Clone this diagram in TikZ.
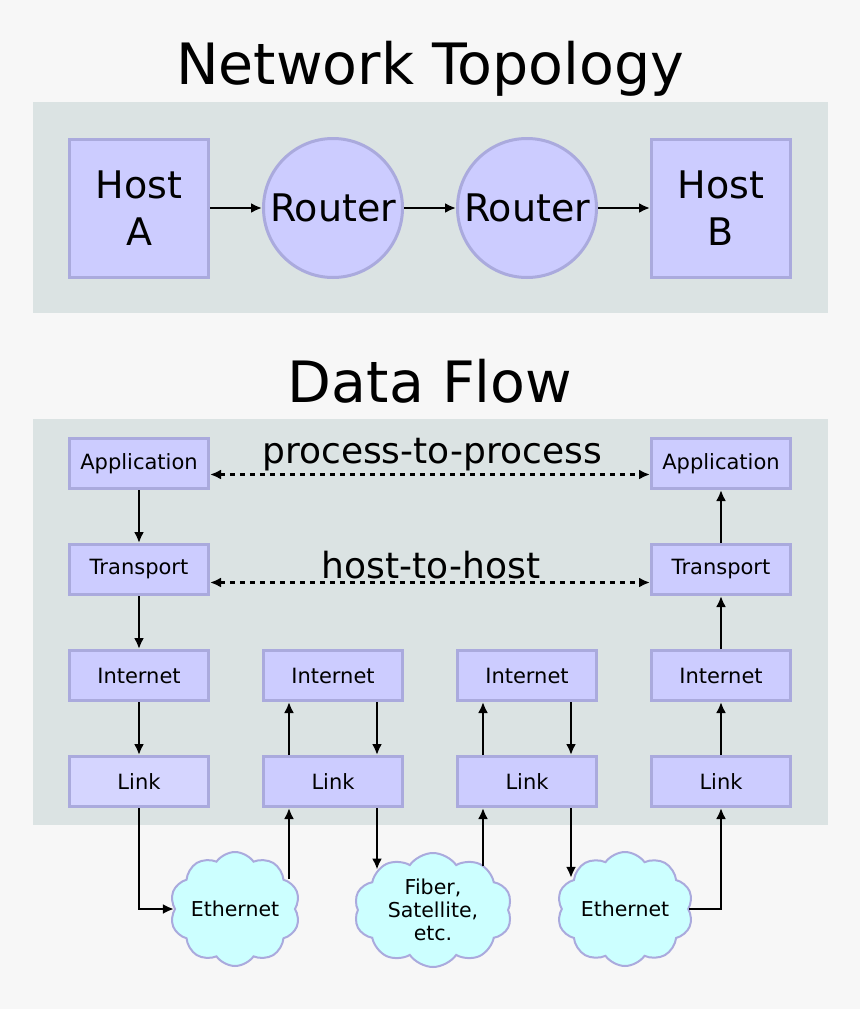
\documentclass[tikz,border=0pt]{standalone}
\usepackage{fontspec}
\setmainfont{DejaVu Sans}
\usetikzlibrary{arrows.meta,positioning,shapes.symbols}
\definecolor{pagebg}{HTML}{F7F7F7}
\definecolor{panelbg}{HTML}{DBE3E3}
\definecolor{boxfill}{HTML}{CCCCFF}
\definecolor{linkfill}{HTML}{D5D5FF}
\definecolor{boxline}{HTML}{AAAADD}
\definecolor{cloudfill}{HTML}{CCFFFF}

\tikzset{
  host/.style={draw=boxline,fill=boxfill,line width=3pt,minimum width=139pt,minimum height=138pt,inner sep=0pt,align=center,font=\fontsize{38}{47}\selectfont},
  router/.style={draw=boxline,fill=boxfill,circle,line width=3pt,minimum size=139pt,inner sep=0pt,font=\fontsize{38}{47}\selectfont},
  layer/.style={draw=boxline,fill=boxfill,line width=3pt,minimum width=139pt,minimum height=50pt,inner sep=0pt,font=\fontsize{21}{25}\selectfont},
  net/.style={cloud,cloud puffs=10,cloud puff arc=110,cloud ignores aspect,draw=boxline,fill=cloudfill,line width=2pt,minimum width=130pt,minimum height=114pt,inner sep=0pt,align=center,font=\fontsize{20.5}{23}\selectfont},
  heading/.style={anchor=base,font=\fontsize{57}{64}\selectfont},
  flowtext/.style={anchor=base,font=\fontsize{36}{40}\selectfont},
  peer/.style={<->,dash pattern=on 5pt off 5pt}
}

\begin{document}
\begin{tikzpicture}[x=1pt,y=-1pt,>={Latex[length=11pt,width=10pt]},line width=2.8pt,node distance=106pt and 194pt,on grid]
  \fill[pagebg] (0,0) rectangle (860,1009);
  \fill[panelbg] (33,102) rectangle (828,313);
  \fill[panelbg] (33,419) rectangle (828,825);

  \node[heading] (topo) at (430,84) {Network Topology};
  \node[heading] (flow) at (430,402) {Data Flow};

  % topology
  \node[host] (hA) at (139,208) {Host\\A};
  \node[router] (r1) [right=of hA] {Router};
  \node[router] (r2) [right=of r1] {Router};
  \node[host] (hB) [right=of r2] {Host\\B};

  \draw[->] (hA) -- (r1);
  \draw[->] (r1) -- (r2);
  \draw[->] (r2) -- (hB);

  % layers
  \node[layer] (app1) at (139,463.5) {Application};
  \node[layer] (tr1) [below=of app1] {Transport};
  \node[layer] (in1) [below=of tr1] {Internet};
  \node[layer,fill=linkfill] (ln1) [below=of in1] {Link};
  \node[layer] (in2) [right=of in1] {Internet};
  \node[layer] (ln2) [right=of ln1] {Link};
  \node[layer] (in3) [right=of in2] {Internet};
  \node[layer] (ln3) [right=of ln2] {Link};
  \node[layer] (in4) [right=of in3] {Internet};
  \node[layer] (ln4) [right=of ln3] {Link};
  \node[layer] (tr4) [above=of in4] {Transport};
  \node[layer] (app4) [above=of tr4] {Application};

  \node[flowtext] (p2p) at (432,463) {process-to-process};
  \node[flowtext] (h2h) at (431,578) {host-to-host};

  \node[net] (eth1) at (235,909) {Ethernet};
  \node[net,minimum width=158pt] (fib) at (433,910) {Fiber,\\Satellite,\\etc.};
  \node[net,minimum width=136pt] (eth2) at (625,909) {Ethernet};

  \draw[peer] ([yshift=-11pt]app1.east) -- ([yshift=-11pt]app4.west);
  \draw[peer] ([yshift=-13pt]tr1.east) -- ([yshift=-13pt]tr4.west);

  \draw[->] (app1) -- (tr1);
  \draw[->] (tr1) -- (in1);
  \draw[->] (in1) -- (ln1);
  \draw[->] ([xshift=-44pt]ln2.north) -- ([xshift=-44pt]in2.south);
  \draw[->] ([xshift=44pt]in2.south) -- ([xshift=44pt]ln2.north);
  \draw[->] ([xshift=-44pt]ln3.north) -- ([xshift=-44pt]in3.south);
  \draw[->] ([xshift=44pt]in3.south) -- ([xshift=44pt]ln3.north);
  \draw[->] (ln4) -- (in4);
  \draw[->] (in4) -- (tr4);
  \draw[->] (tr4) -- (app4);

  \draw[->] (ln1) |- (eth1);
  \draw[->] ([xshift=-44pt]ln2.south |- eth1.31) -- ([xshift=-44pt]ln2.south);
  \draw[->] ([xshift=44pt]ln2.south) -- ([xshift=44pt]ln2.south |- fib.144);
  \draw[->] ([xshift=-44pt]ln3.south |- fib.41) -- ([xshift=-44pt]ln3.south);
  \draw[->] ([xshift=44pt]ln3.south) -- ([xshift=44pt]ln3.south |- eth2.149);
  \draw[->] (eth2) -| (ln4);
\end{tikzpicture}
\end{document}
